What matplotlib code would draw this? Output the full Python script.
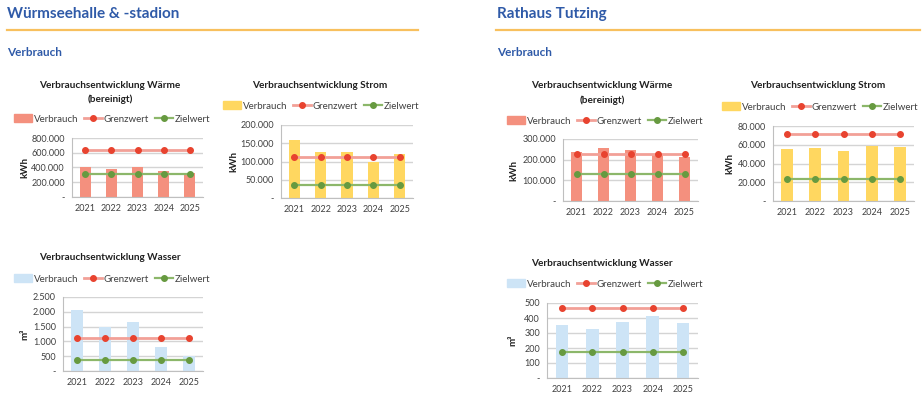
import matplotlib
matplotlib.use("Agg")
import matplotlib.pyplot as plt
from matplotlib.ticker import FuncFormatter, MultipleLocator
from matplotlib.lines import Line2D
from matplotlib.patches import Patch

plt.rcParams['font.family'] = ['Lato', 'DejaVu Sans']

years = ['2021', '2022', '2023', '2024', '2025']

# Würmseehalle & -stadion
wh_waerme = [400000, 378000, 405000, 355000, 332000]
wh_waerme_grenz = [635000] * 5
wh_waerme_ziel = [308000] * 5
wh_strom = [160000, 127000, 125000, 98000, 121000]
wh_strom_grenz = [113000] * 5
wh_strom_ziel = [36000] * 5
wh_wasser = [2050, 1500, 1670, 800, 520]
wh_wasser_grenz = [1130] * 5
wh_wasser_ziel = [380] * 5

# Rathaus Tutzing
rt_waerme = [237000, 255000, 247000, 228000, 215000]
rt_waerme_grenz = [226000] * 5
rt_waerme_ziel = [130000] * 5
rt_strom = [55000, 57000, 53500, 59000, 57500]
rt_strom_grenz = [71000] * 5
rt_strom_ziel = [23000] * 5
rt_wasser = [355, 330, 375, 415, 365]
rt_wasser_grenz = [465] * 5
rt_wasser_ziel = [175] * 5

W, H = 923, 400
BLUE = '#2F5AA8'
ORANGE = '#F8C05E'
C_WAERME = '#F4907E'
C_STROM = '#FFD760'
C_WASSER = '#CDE4F6'

fig = plt.figure(figsize=(W / 100, H / 100), dpi=100)


def fx(x):
    return x / W


def fy(y):
    return 1 - y / H


def de_fmt(v, pos):
    if v == 0:
        return '-'
    return '{:,.0f}'.format(v).replace(',', '.')


def chart(box, vals, grenz, ziel, color, ymax, step, ylabel, title, title_xy, leg_xy, ylab_x):
    x0, y0, x1, y1 = box
    ax = fig.add_axes([fx(x0), fy(y1), fx(x1 - x0), (y1 - y0) / H])
    xs = range(len(years))
    ax.bar(xs, vals, width=0.42, color=color, zorder=2)
    ax.plot(xs, grenz, color='#F2A097', lw=2, marker='o', ms=4,
            mfc='#E8432F', mec='#E8432F', zorder=3)
    ax.plot(xs, ziel, color='#8CB76A', lw=1.6, marker='o', ms=4,
            mfc='#679A40', mec='#679A40', zorder=3)
    ax.set_xlim(-0.5, len(years) - 0.5)
    ax.set_ylim(0, ymax)
    ax.yaxis.set_major_locator(MultipleLocator(step))
    ax.yaxis.set_major_formatter(FuncFormatter(de_fmt))
    ax.set_xticks(list(xs))
    ax.set_xticklabels(years)
    ax.grid(axis='y', color='#D4D4D4', lw=1, zorder=0)
    ax.set_axisbelow(True)
    for s in ['top', 'right']:
        ax.spines[s].set_visible(False)
    for s in ['left', 'bottom']:
        ax.spines[s].set_color('#BFBFBF')
    ax.tick_params(length=0, labelsize=6.5, colors='#404040', pad=5)
    fig.text(fx(ylab_x), fy((y0 + y1) / 2), ylabel, rotation=90, ha='center', va='center',
             fontsize=7, fontweight='bold', color='#202020')
    for i, line in enumerate(title.split('\n')):
        fig.text(fx(title_xy[0]), fy(title_xy[1] + 14 * i), line, ha='center', va='center',
                 fontsize=7.2, fontweight='bold', color='#202020')
    handles = [
        Patch(color=color),
        Line2D([], [], color='#F2A097', lw=2, marker='o', ms=4, mfc='#E8432F', mec='#E8432F'),
        Line2D([], [], color='#8CB76A', lw=1.6, marker='o', ms=4, mfc='#679A40', mec='#679A40'),
    ]
    fig.legend(handles, ['Verbrauch', 'Grenzwert', 'Zielwert'], loc='center',
               bbox_to_anchor=(fx(leg_xy[0]), fy(leg_xy[1])), ncol=3, frameon=False,
               fontsize=7, handlelength=1.9, handleheight=0.8, handletextpad=0.15,
               columnspacing=0.6, labelcolor='#404040', borderpad=0)
    return ax


# headings
fig.text(fx(7), fy(14), 'Würmseehalle & -stadion', fontsize=11, fontweight='bold',
         color=BLUE, va='center')
fig.text(fx(497), fy(14), 'Rathaus Tutzing', fontsize=11, fontweight='bold',
         color=BLUE, va='center')
fig.add_artist(Line2D([fx(7), fx(418)], [fy(30), fy(30)], color=ORANGE, lw=1.6))
fig.add_artist(Line2D([fx(496), fx(920)], [fy(30), fy(30)], color=ORANGE, lw=1.6))
fig.text(fx(7), fy(52), 'Verbrauch', fontsize=8.5, fontweight='bold', color=BLUE, va='center')
fig.text(fx(497), fy(52), 'Verbrauch', fontsize=8.5, fontweight='bold', color=BLUE, va='center')

chart((72, 138, 203, 197), wh_waerme, wh_waerme_grenz, wh_waerme_ziel, C_WAERME,
      800000, 200000, 'kWh', 'Verbrauchsentwicklung Wärme\n(bereinigt)', (110, 85), (112, 119), 25)
chart((281, 125, 413, 198), wh_strom, wh_strom_grenz, wh_strom_ziel, C_STROM,
      200000, 50000, 'kWh', 'Verbrauchsentwicklung Strom', (320, 85), (321, 106), 234)
chart((63, 297, 203, 371), wh_wasser, wh_wasser_grenz, wh_wasser_ziel, C_WASSER,
      2500, 500, 'm³', 'Verbrauchsentwicklung Wasser', (110, 258), (112, 279), 25)
chart((563, 139, 698, 201), rt_waerme, rt_waerme_grenz, rt_waerme_ziel, C_WAERME,
      300000, 100000, 'kWh', 'Verbrauchsentwicklung Wärme\n(bereinigt)', (602, 86), (605, 121), 514)
chart((773, 126, 914, 201), rt_strom, rt_strom_grenz, rt_strom_ziel, C_STROM,
      80000, 20000, 'kWh', 'Verbrauchsentwicklung Strom', (818, 85), (820, 107), 730)
chart((547, 303, 698, 378), rt_wasser, rt_wasser_grenz, rt_wasser_ziel, C_WASSER,
      500, 100, 'm³', 'Verbrauchsentwicklung Wasser', (602, 263), (605, 284), 513)

fig.savefig('out.png', dpi=100)
